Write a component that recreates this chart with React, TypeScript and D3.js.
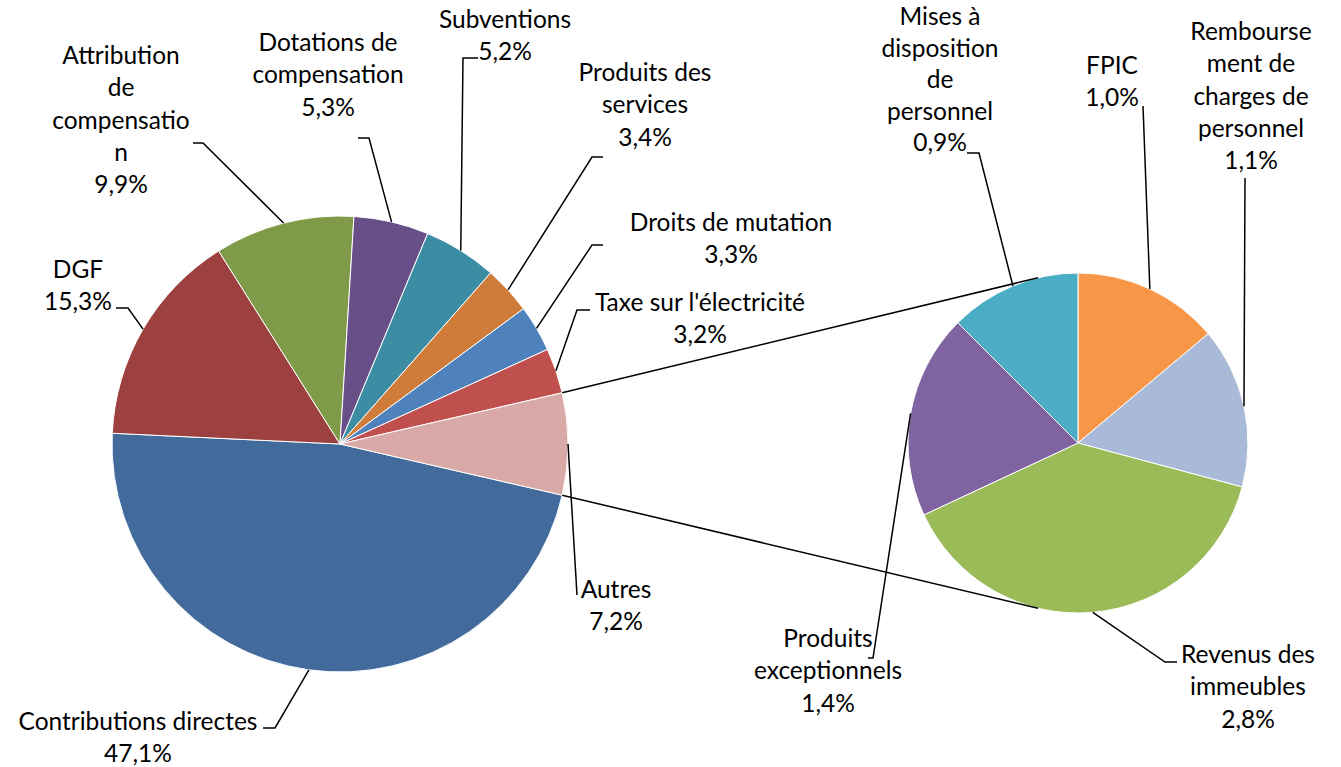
import React from "react";
import * as d3 from "d3";

// ---- Data ----
const mainNames = [
  "Contributions directes",
  "DGF",
  "Attribution de compensation",
  "Dotations de compensation",
  "Subventions",
  "Produits des services",
  "Droits de mutation",
  "Taxe sur l'électricité",
  "Autres",
];
const mainValues = [47.1, 15.3, 9.9, 5.3, 5.2, 3.4, 3.3, 3.2, 7.2];
const mainLabelLines = [
  ["Contributions directes"],
  ["DGF"],
  ["Attribution", "de", "compensatio", "n"],
  ["Dotations de", "compensation"],
  ["Subventions"],
  ["Produits des", "services"],
  ["Droits de mutation"],
  ["Taxe sur l'électricité"],
  ["Autres"],
];
const mainColors = [
  "#426A9B", "#9C413F", "#7F9A48", "#684F87", "#3C8DA4",
  "#CF7B39", "#4F81BD", "#C0504D", "#D9A9A8",
];

const subNames = [
  "FPIC",
  "Remboursement de charges de personnel",
  "Revenus des immeubles",
  "Produits exceptionnels",
  "Mises à disposition de personnel",
];
const subValues = [1.0, 1.1, 2.8, 1.4, 0.9];
const subLabelLines = [
  ["FPIC"],
  ["Rembourse", "ment de", "charges de", "personnel"],
  ["Revenus des", "immeubles"],
  ["Produits", "exceptionnels"],
  ["Mises à", "disposition", "de", "personnel"],
];
const subColors = ["#F79646", "#A9B9D8", "#9BBB59", "#8064A2", "#4BACC6"];

// ---- Layout ----
const W = 1341;
const H = 767;
const main = { cx: 340, cy: 444, r: 228 };
const sub = { cx: 1078, cy: 443, r: 170 };
const connectorAngle = (13.6 * Math.PI) / 180;
const lineH = 32.3;
const fontSize = 24.5;

const mainLabelPos = [
  { x: 138, y: 730, lh: lineH, elbow: [[263, 728], [275, 728]] },
  { x: 78, y: 278, lh: lineH, elbow: [[116, 308], [128, 308]] },
  { x: 121, y: 64, lh: lineH, elbow: [[193, 143], [203, 143]] },
  { x: 328, y: 51, lh: lineH, elbow: [[358, 138], [369, 138]] },
  { x: 505, y: 28, lh: lineH, elbow: [[478, 58], [463, 58]] },
  { x: 645, y: 81, lh: lineH, elbow: [[603, 157], [592, 157]] },
  { x: 731, y: 231, lh: lineH, elbow: [[603, 245], [592, 245]] },
  { x: 700, y: 311, lh: lineH, elbow: [[590, 310], [577, 310]] },
  { x: 616, y: 598, lh: lineH, elbow: [[577, 595]] },
];
const subLabelPos = [
  { x: 1112, y: 74, lh: lineH, elbow: [[1143, 106]] },
  { x: 1251, y: 40, lh: lineH, elbow: [[1245, 178]] },
  { x: 1248, y: 663, lh: lineH, elbow: [[1177, 662], [1165, 662]] },
  { x: 828, y: 647, lh: lineH, elbow: [[868, 658], [873, 658]] },
  { x: 940, y: 25, lh: 31.5, elbow: [[967, 153], [979, 153]] },
];

const fmt = (v: number) => d3.format(".1f")(v).replace(".", ",") + "%";

const edge = (c: { cx: number; cy: number; r: number }, a: number) => [
  c.cx + c.r * Math.sin(a),
  c.cy - c.r * Math.cos(a),
];

export default function App() {
  const mainTotal = d3.sum(mainValues);
  const otherIdx = mainValues.length - 1;
  const otherAngle = (mainValues[otherIdx] / mainTotal) * 2 * Math.PI;
  const start = Math.PI / 2 + otherAngle / 2;

  const mainArcs = d3
    .pie<number>()
    .sort(null)
    .value((d) => d)
    .startAngle(start)
    .endAngle(start + 2 * Math.PI)(mainValues);

  const subArcs = d3
    .pie<number>()
    .sort(null)
    .value((d) => d)
    .startAngle(0)
    .endAngle(2 * Math.PI)(subValues);

  const arcMain = d3.arc<d3.PieArcDatum<number>>().innerRadius(0).outerRadius(main.r);
  const arcSub = d3.arc<d3.PieArcDatum<number>>().innerRadius(0).outerRadius(sub.r);

  const other = mainArcs[otherIdx];
  const p1 = edge(main, other.startAngle);
  const p2 = edge(main, other.endAngle);
  const q1 = edge(sub, -connectorAngle);
  const q2 = edge(sub, Math.PI + connectorAngle);

  const line = d3.line();

  const renderLabel = (
    lines: string[],
    value: number,
    pos: { x: number; y: number; lh: number; elbow: number[][] },
    arc: d3.PieArcDatum<number>,
    c: { cx: number; cy: number; r: number },
    key: string
  ) => {
    const mid = (arc.startAngle + arc.endAngle) / 2;
    const end = edge(c, mid);
    const pts = [...pos.elbow, end] as [number, number][];
    const all = [...lines, fmt(value)];
    return (
      <g key={key}>
        <path d={line(pts) || ""} fill="none" stroke="#000" strokeWidth={1.5} />
        <text
          x={pos.x}
          y={pos.y}
          textAnchor="middle"
          fontFamily="Lato, 'Noto Sans', sans-serif"
          fontSize={fontSize}
          fill="#000"
        >
          {all.map((t, i) => (
            <tspan key={i} x={pos.x} y={pos.y + i * pos.lh}>
              {t}
            </tspan>
          ))}
        </text>
      </g>
    );
  };

  return (
    <svg
      width={W}
      height={H}
      style={{ position: "absolute", left: 0, top: 0, background: "#fff" }}
    >
      <g transform={`translate(${main.cx},${main.cy})`}>
        {mainArcs.map((a, i) => (
          <path key={mainNames[i]} d={arcMain(a) || ""} fill={mainColors[i]} stroke="#fff" strokeWidth={1} />
        ))}
      </g>
      <g transform={`translate(${sub.cx},${sub.cy})`}>
        {subArcs.map((a, i) => (
          <path key={subNames[i]} d={arcSub(a) || ""} fill={subColors[i]} stroke="#fff" strokeWidth={1} />
        ))}
      </g>
      <path d={line([p1 as [number, number], q1 as [number, number]]) || ""} stroke="#000" strokeWidth={1.5} fill="none" />
      <path d={line([p2 as [number, number], q2 as [number, number]]) || ""} stroke="#000" strokeWidth={1.5} fill="none" />
      {mainArcs.map((a, i) =>
        renderLabel(mainLabelLines[i], mainValues[i], mainLabelPos[i], a, main, "m" + i)
      )}
      {subArcs.map((a, i) =>
        renderLabel(subLabelLines[i], subValues[i], subLabelPos[i], a, sub, "s" + i)
      )}
    </svg>
  );
}
